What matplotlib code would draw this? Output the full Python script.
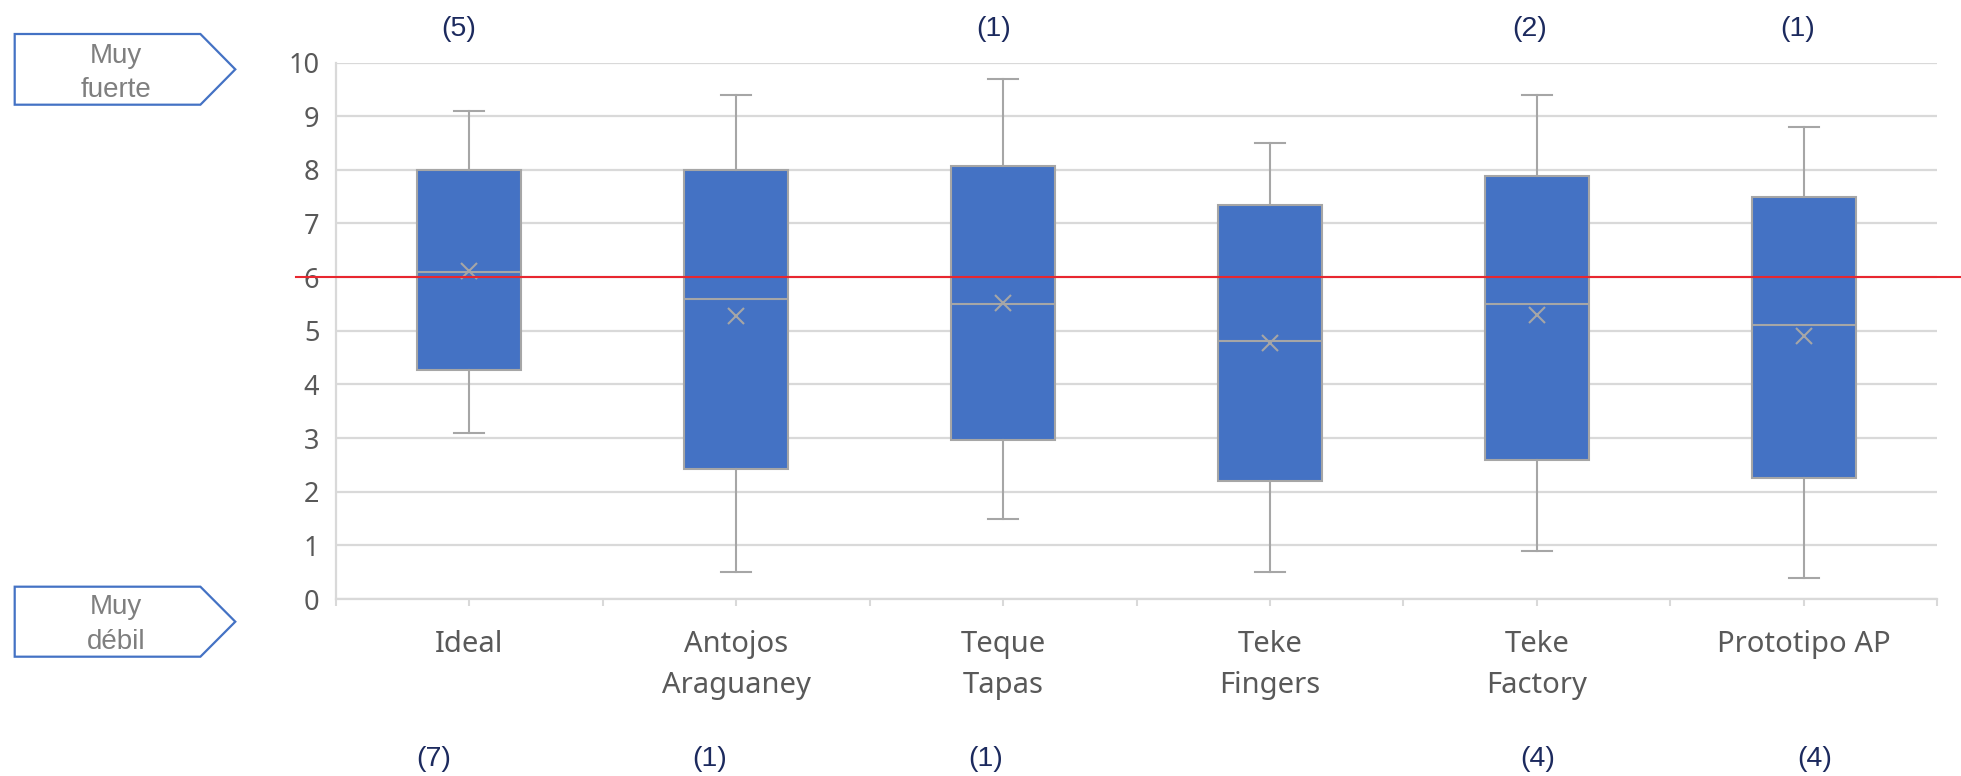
import matplotlib
matplotlib.use("Agg")
import matplotlib.pyplot as plt
from matplotlib.patches import Polygon
from matplotlib.transforms import blended_transform_factory
from matplotlib.ticker import FixedLocator

# ---------------- data ----------------
categories = ["Ideal", "Antojos\nAraguaney", "Teque\nTapas", "Teke\nFingers", "Teke\nFactory", "Prototipo AP"]
whisker_low = [3.1, 0.5, 1.5, 0.5, 0.9, 0.4]
q1 = [4.26, 2.42, 2.96, 2.2, 2.59, 2.26]
median = [6.1, 5.6, 5.5, 4.8, 5.5, 5.1]
mean = [6.12, 5.27, 5.51, 4.77, 5.29, 4.9]
q3 = [8.0, 8.0, 8.08, 7.34, 7.89, 7.49]
whisker_high = [9.1, 9.4, 9.7, 8.5, 9.4, 8.8]
reference_value = 6.0
top_counts = ["(5)", "", "(1)", "", "(2)", "(1)"]
bottom_counts = ["(7)", "(1)", "(1)", "", "(4)", "(4)"]
yticks = list(range(0, 11))

# ---------------- layout ----------------
W, H = 1961, 776
fig = plt.figure(figsize=(W / 100, H / 100), dpi=100)
fig.patch.set_facecolor("white")

ax_l, ax_r, ax_t, ax_b = 336, 1937, 62.5, 599
ax = fig.add_axes([ax_l / W, 1 - ax_b / H, (ax_r - ax_l) / W, (ax_b - ax_t) / H])
cat_px = (ax_r - ax_l) / len(categories)

BLUE = "#4472C4"
GRAY = "#A6A6A6"
GRID = "#D9D9D9"
TXT = "#595959"
NAVY = "#1C2A5E"

stats = []
for i in range(len(categories)):
    stats.append(dict(whislo=whisker_low[i], q1=q1[i], med=median[i], q3=q3[i],
                      whishi=whisker_high[i], mean=mean[i], fliers=[]))

ax.bxp(stats, positions=range(len(categories)), widths=0.39, capwidths=0.1125,
       showmeans=True, showfliers=False, patch_artist=True,
       boxprops=dict(facecolor=BLUE, edgecolor=GRAY, linewidth=1.5),
       whiskerprops=dict(color=GRAY, linewidth=1.5),
       capprops=dict(color=GRAY, linewidth=1.5),
       medianprops=dict(color=GRAY, linewidth=1.5),
       meanprops=dict(marker="x", markeredgecolor=GRAY, markerfacecolor=GRAY,
                      markersize=11, markeredgewidth=1.5))

ax.set_xlim(-0.5, len(categories) - 0.5)
ax.set_ylim(0, 10)
ax.set_yticks(yticks)
ax.set_axisbelow(True)
ax.yaxis.grid(True, color=GRID, linewidth=1.6)
for s in ["top", "right"]:
    ax.spines[s].set_visible(False)
ax.spines["left"].set_color(GRID)
ax.spines["left"].set_linewidth(1.6)
ax.spines["bottom"].set_color(GRID)
ax.spines["bottom"].set_linewidth(1.6)

ax.set_xticks(range(len(categories)))
ax.set_xticklabels(categories, fontsize=21, color=TXT, family="Noto Sans", linespacing=1.55, va="top")
ax.xaxis.set_minor_locator(FixedLocator([i - 0.5 for i in range(len(categories) + 1)]))
ax.tick_params(axis="x", which="both", length=5, width=1.5, color=GRID, direction="out")
ax.tick_params(axis="x", which="major", pad=17)
ax.tick_params(axis="y", length=0, pad=12, labelsize=19.5, labelcolor=TXT)
for lab in ax.get_yticklabels():
    lab.set_family("Noto Sans")

# reference line
ax.axhline(reference_value, xmin=(295.5 - ax_l) / (ax_r - ax_l), xmax=(W - ax_l) / (ax_r - ax_l),
           color="#E8272F", linewidth=1.5, clip_on=False, zorder=6)

# count annotations
tr = blended_transform_factory(ax.transData, fig.transFigure)
top_off = [-11, 0, -9, 0, -7, -6]
bot_off = [-36, -27, -17, 0, 1, 11]
for i, t in enumerate(top_counts):
    if t:
        ax.text(i + top_off[i] / cat_px, 1 - 28.7 / H, t, transform=tr, ha="center", va="center",
                fontsize=20.5, color=NAVY, family="Liberation Sans")
for i, t in enumerate(bottom_counts):
    if t:
        ax.text(i + bot_off[i] / cat_px, 1 - 759 / H, t, transform=tr, ha="center", va="center",
                fontsize=20.5, color=NAVY, family="Liberation Sans")

# pentagon labels
def px(x, y):
    return (x / W, 1 - y / H)

def tag(top, bottom, l1, l2, b1, b2):
    mid = (top + bottom) / 2
    pts = [px(14.7, top), px(200.4, top), px(235.3, mid), px(200.4, bottom), px(14.7, bottom)]
    fig.patches.append(Polygon(pts, closed=True, transform=fig.transFigure, facecolor="white",
                               edgecolor=BLUE, linewidth=1.6))
    fig.text(*px(116, b1), l1, ha="center", va="baseline", fontsize=20, color="#7F7F7F",
             family="Liberation Sans")
    fig.text(*px(116, b2), l2, ha="center", va="baseline", fontsize=20, color="#7F7F7F",
             family="Liberation Sans")

tag(34, 104.7, "Muy", "fuerte", 63.3, 97.3)
tag(586.7, 656.7, "Muy", "débil", 614.3, 649.3)

fig.savefig("out.png", dpi=100, facecolor="white")
